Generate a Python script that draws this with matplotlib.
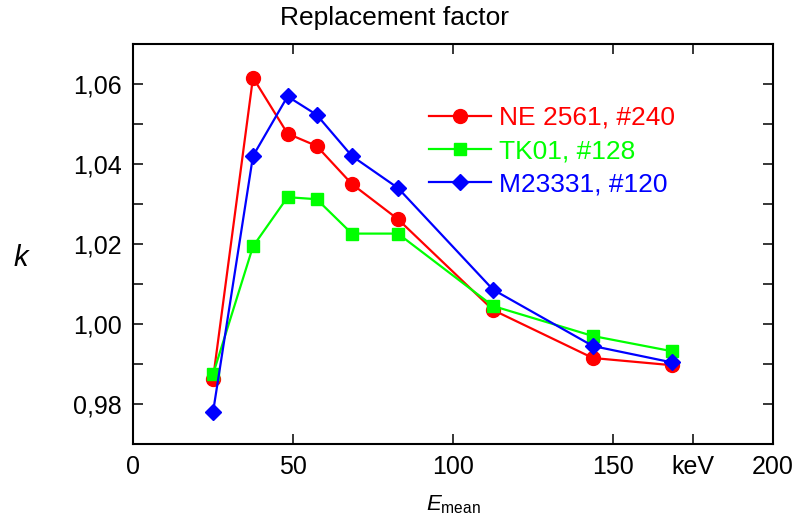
import matplotlib
matplotlib.use("Agg")
import matplotlib.pyplot as plt
from matplotlib.ticker import FixedLocator

plt.rcParams['font.family'] = ['Liberation Sans', 'DejaVu Sans']
plt.rcParams['mathtext.fontset'] = 'custom'
plt.rcParams['mathtext.rm'] = 'Liberation Sans'
plt.rcParams['mathtext.it'] = 'Liberation Sans:italic'

# Data
energy = [25.0, 37.5, 48.3, 57.4, 68.4, 82.8, 112.5, 143.7, 168.4]
ne2561 = [0.9862, 1.0616, 1.0476, 1.0445, 1.0350, 1.0262, 1.0035, 0.9915, 0.9897]
tk01 = [0.9874, 1.0194, 1.0317, 1.0312, 1.0226, 1.0226, 1.0045, 0.9970, 0.9932]
m23331 = [0.9779, 1.0420, 1.0569, 1.0523, 1.0420, 1.0340, 1.0086, 0.9945, 0.9904]
labels = ["NE 2561, #240", "TK01, #128", "M23331, #120"]
xticks = [0, 50, 100, 150, 175, 200]
xticklabels = ["0", "50", "100", "150", "keV", "200"]
yticks = [0.98, 1.00, 1.02, 1.04, 1.06]
yticklabels = ["0,98", "1,00", "1,02", "1,04", "1,06"]
yminor = [0.99, 1.01, 1.03, 1.05]

fig = plt.figure(figsize=(8.0, 5.27), dpi=100)
ax = fig.add_axes([133/800, 1-444/527, 640/800, 400/527])

ax.plot(energy, ne2561, color='#ff0000', lw=1.6, marker='o', ms=10, label=labels[0])
ax.plot(energy, tk01, color='#00ff00', lw=1.6, marker='s', ms=9, label=labels[1])
ax.plot(energy, m23331, color='#0000ff', lw=1.6, marker='D', ms=8, label=labels[2])

ax.set_xlim(0, 200)
ax.set_ylim(0.97, 1.07)
ax.set_xticks(xticks)
ax.set_xticklabels(xticklabels)
ax.set_yticks(yticks)
ax.set_yticklabels(yticklabels)
ax.yaxis.set_minor_locator(FixedLocator(yminor))
ax.tick_params(which='both', direction='in', top=True, right=True,
               length=7, width=1.1, labelsize=18, pad=8)
for s in ax.spines.values():
    s.set_linewidth(1.5)

fig.text(395/800, 1-18/527, "Replacement factor", ha='center', va='center', fontsize=19)
fig.text(21/800, 1-258/527, "k", ha='center', va='center', fontsize=21, style='italic')
fig.text(453/800, 1-505/527, r"$E_{\mathrm{mean}}$", ha='center', va='center', fontsize=16)

leg = ax.legend(loc='upper left', bbox_to_anchor=(429/800, 1-106/527),
                bbox_transform=fig.transFigure, frameon=False, fontsize=19,
                handlelength=2.35, handletextpad=0.3, labelspacing=0.35,
                borderpad=0, borderaxespad=0)
for t, c in zip(leg.get_texts(), ['#ff0000', '#00ff00', '#0000ff']):
    t.set_color(c)

fig.savefig("out.png", dpi=100)
